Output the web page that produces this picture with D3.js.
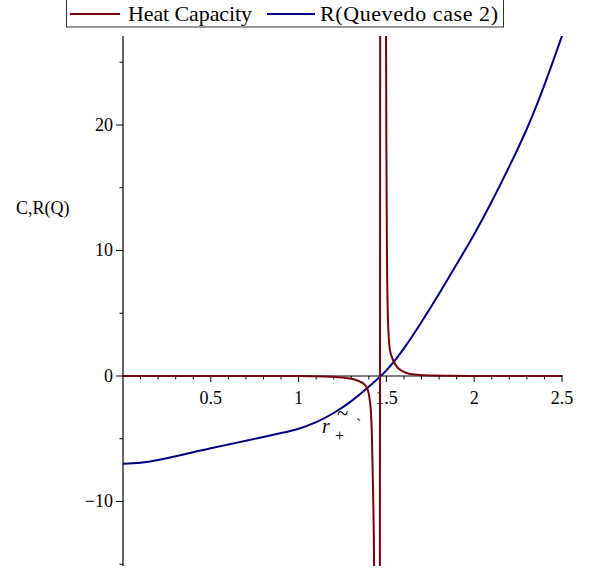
<!DOCTYPE html>
<html><head><meta charset="utf-8">
<script src="https://cdn.jsdelivr.net/npm/d3@7"></script>
<style>body{margin:0;background:#fff}svg{display:block}text{font-family:"Liberation Serif","DejaVu Serif",serif}</style>
</head><body>
<svg id="c" width="606" height="574"></svg>
<script>
// ---- data ----
const seriesNames = ["Heat Capacity", "R(Quevedo case 2)"];
const xMajorTicks = [0.5, 1, 1.5, 2, 2.5];
const xMajorLabels = ["0.5", "1", "1.5", "2", "2.5"];
const yMajorTicks = [-10, 0, 10, 20];
const yMajorLabels = ["\u221210", "0", "10", "20"];
const yMinorTicks = [-15, -5, 5, 15, 25];

// R(Q) curve
const rX = [0, 0.1, 0.2, 0.3, 0.4, 0.5, 0.6, 0.7, 0.8, 0.9, 1.0, 1.1, 1.2, 1.3, 1.4, 1.5, 1.6, 1.7, 1.8, 1.9, 2.0, 2.1, 2.2, 2.3, 2.4, 2.5];
const rY = [-7.0, -6.92, -6.7, -6.4, -6.07, -5.76, -5.46, -5.16, -4.86, -4.55, -4.2, -3.68, -2.95, -2.0, -0.85, 0.45, 2.2, 4.3, 6.55, 8.9, 11.3, 13.9, 16.7, 19.7, 23.2, 27.1];

// Heat capacity, three branches
const cLeftX = [0, 0.6, 1.0, 1.15, 1.213, 1.293, 1.327, 1.35, 1.372, 1.39, 1.401, 1.407, 1.413, 1.418, 1.424, 1.43, 1.432];
const cLeftY = [-0.0, -0.003, -0.01, -0.04, -0.08, -0.2, -0.32, -0.45, -0.64, -0.96, -1.5, -2.1, -3.1, -5.1, -9.1, -15.2, -20];
const cMidX = [1.4625, 1.4636, 1.4647];
const cMidY = [-20, 0, 32];
const cRightX = [1.4975, 1.498, 1.5, 1.503, 1.509, 1.52, 1.538, 1.56, 1.589, 1.634, 1.748, 1.976, 2.5];
const cRightY = [32, 27.1, 18, 10, 4.46, 2.07, 1.27, 0.72, 0.4, 0.16, 0.04, 0.005, 0];

// ---- drawing ----
const svg = d3.select("#c");
const x = d3.scaleLinear().domain([0, 2.5]).range([123, 562]);
const y = d3.scaleLinear().domain([-15.14, 27.09]).range([566, 36]);
const red = "#78000E", blue = "#000080";
const font = 18;

svg.append("defs").append("clipPath").attr("id", "clip")
  .append("rect").attr("x", 123).attr("y", 36).attr("width", 460).attr("height", 530);

// axes
const ax = svg.append("g").attr("stroke", "#000").attr("fill", "none");
ax.append("line").attr("x1", x(0)).attr("x2", x(2.5) + 1).attr("y1", y(0)).attr("y2", y(0)).attr("stroke-width", 1.2);
ax.append("line").attr("x1", x(0)).attr("x2", x(0)).attr("y1", y.range()[1]).attr("y2", y.range()[0]).attr("stroke-width", 1.2);

const xMinor = d3.range(1, 26).map(i => i / 10);
ax.selectAll(".xt").data(xMinor).join("line")
  .attr("x1", d => x(d)).attr("x2", d => x(d))
  .attr("y1", y(0)).attr("y2", d => y(0) + (Math.abs(d * 2 - Math.round(d * 2)) < 1e-6 ? 6 : 3.5));
ax.selectAll(".ytM").data(yMajorTicks).join("line")
  .attr("x1", x(0) - 7).attr("x2", x(0)).attr("y1", d => y(d)).attr("y2", d => y(d));
ax.selectAll(".ytm").data(yMinorTicks).join("line")
  .attr("x1", x(0) - 3.5).attr("x2", x(0)).attr("y1", d => y(d)).attr("y2", d => y(d));

svg.selectAll(".xl").data(xMajorTicks).join("text")
  .attr("x", d => x(d)).attr("y", 404).attr("text-anchor", "middle")
  .attr("font-size", font).text((d, i) => xMajorLabels[i]);
svg.selectAll(".yl").data(yMajorTicks).join("text")
  .attr("x", 113).attr("y", d => y(d) + 6).attr("text-anchor", "end")
  .attr("font-size", font).text((d, i) => yMajorLabels[i]);

svg.append("text").attr("x", 16).attr("y", 214).attr("font-size", font).text("C,R(Q)");

// curves
const zip = (a, b) => a.map((v, i) => [v, b[i]]);
const lineN = d3.line().x(d => x(d[0])).y(d => y(d[1])).curve(d3.curveNatural);
const lineM = d3.line().x(d => x(d[0])).y(d => y(d[1])).curve(d3.curveMonotoneX);
const g = svg.append("g").attr("clip-path", "url(#clip)").attr("fill", "none").attr("stroke-width", 2);
g.append("path").attr("d", lineN(zip(rX, rY))).attr("stroke", blue);
[[cLeftX, cLeftY], [cMidX, cMidY], [cRightX, cRightY]].forEach(([a, b]) =>
  g.append("path").attr("d", lineM(zip(a, b))).attr("stroke", red));

// annotation r~+ `
const ann = svg.append("g").attr("fill", "#000");
ann.append("text").attr("x", 322).attr("y", 433).attr("font-size", 20).attr("font-style", "italic").text("r");
ann.append("text").attr("x", 335).attr("y", 441).attr("font-size", 16).text("+");
ann.append("text").attr("x", 337).attr("y", 420).attr("font-size", 21).text("~");
ann.append("text").attr("x", 356).attr("y", 430).attr("font-size", 16).text("`");

// legend
const lg = svg.append("g");
lg.append("rect").attr("x", 66.5).attr("y", -1).attr("width", 437).attr("height", 28)
  .attr("fill", "#fff").attr("stroke", "#333").attr("stroke-width", 1);
const items = [{sx: 70, ex: 120, tx: 128, w: 124, c: red}, {sx: 267, ex: 315, tx: 320, w: 178, c: blue}];
items.forEach((it, i) => {
  lg.append("line").attr("x1", it.sx).attr("x2", it.ex).attr("y1", 14).attr("y2", 14)
    .attr("stroke", it.c).attr("stroke-width", 2);
  lg.append("text").attr("x", it.tx).attr("y", 21).attr("font-size", 22)
    .attr("textLength", it.w).attr("lengthAdjust", "spacing").text(seriesNames[i]);
});
</script>
</body></html>
